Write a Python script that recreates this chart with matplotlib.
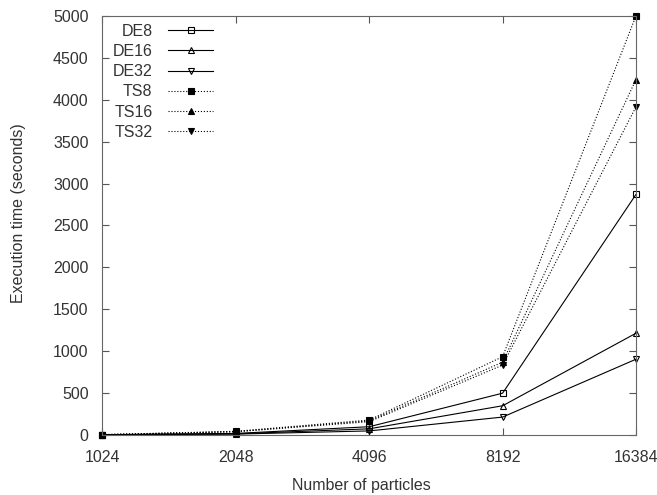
import numpy as np
import matplotlib
matplotlib.use("Agg")
import matplotlib.pyplot as plt

particles = [1024, 2048, 4096, 8192, 16384]
de8 = [5, 20, 100, 500, 2870]
de16 = [4, 15, 75, 350, 1215]
de32 = [3, 12, 50, 215, 905]
ts8 = [6, 45, 180, 935, 5000]
ts16 = [5, 42, 170, 870, 4240]
ts32 = [5, 40, 160, 835, 3915]
yticks = [0, 500, 1000, 1500, 2000, 2500, 3000, 3500, 4000, 4500, 5000]

plt.rcParams['font.family'] = ['Liberation Sans', 'DejaVu Sans']
plt.rcParams['font.size'] = 11.5
txt = '#333333'

fig = plt.figure(figsize=(6.57, 4.95), dpi=100)
ax = fig.add_axes([0.156, 0.121, 0.812, 0.847])

series = [
    ("DE8", de8, '-', 's', 'none'),
    ("DE16", de16, '-', '^', 'none'),
    ("DE32", de32, '-', 'v', 'none'),
    ("TS8", ts8, ':', 's', 'black'),
    ("TS16", ts16, ':', '^', 'black'),
    ("TS32", ts32, ':', 'v', 'black'),
]
for name, vals, ls, mk, fc in series:
    ax.plot(particles, vals, linestyle=ls, color='black', linewidth=0.8,
            marker=mk, markersize=5, markerfacecolor=fc,
            markeredgecolor='black', markeredgewidth=0.8, label=name,
            clip_on=False)

ax.set_xscale('log', base=2)
ax.set_xlim(1024, 16384)
ax.set_ylim(0, 5000)
ax.set_xticks(particles)
ax.set_xticklabels([str(p) for p in particles])
ax.minorticks_off()
ax.set_yticks(yticks)

ax.tick_params(direction='in', top=True, right=True, length=5, width=0.8,
               colors='#555555', labelcolor=txt, labelsize=11.5)
ax.tick_params(axis='y', pad=10)
ax.tick_params(axis='x', pad=10.5)
for s in ax.spines.values():
    s.set_color('#666666')
    s.set_linewidth(0.8)

ax.set_xlabel("Number of particles", color=txt, fontsize=11.5)
ax.set_ylabel("Execution time (seconds)", color=txt, fontsize=11.5)
ax.xaxis.set_label_coords(0.486, -0.103)
ax.yaxis.set_label_coords(-0.143, 0.53)

leg = ax.legend(loc='upper left', bbox_to_anchor=(-0.002, 1.008),
                frameon=False, markerfirst=False,
                handlelength=2.8, fontsize=11.5, labelspacing=0.33,
                borderaxespad=0.3, handletextpad=1.0)
for t in leg.get_texts():
    t.set_color(txt)

fig.savefig("out.png", dpi=100)
